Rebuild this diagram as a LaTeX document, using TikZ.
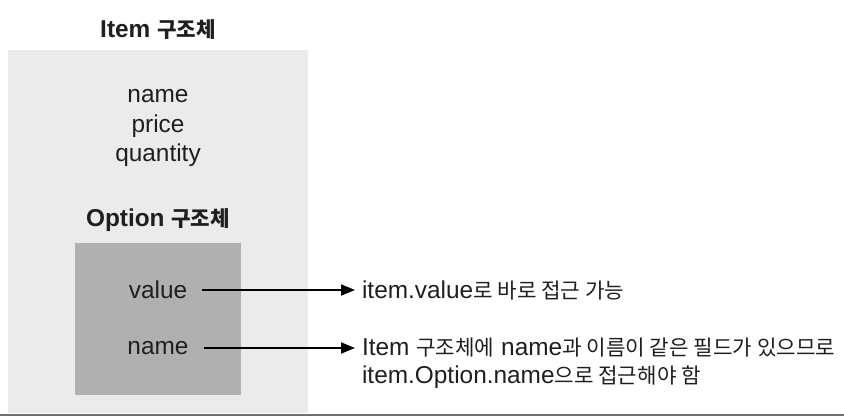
\documentclass[tikz,border=0pt]{standalone}
\usepackage{fontspec}
\setmainfont{Liberation Sans}
\newfontfamily\krfont[Scale=0.87]{Noto Sans CJK KR}
\newcommand{\ko}[1]{{\krfont #1}}
\usetikzlibrary{arrows.meta}
\definecolor{outergray}{HTML}{EBEBEB}
\definecolor{innergray}{HTML}{B0B0B0}
\definecolor{rulegray}{HTML}{707070}
\tikzset{
  fieldtxt/.style = {font=\fontsize{12.2}{14}\selectfont,text=black!88},
  headtxt/.style  = {font=\fontsize{12.2}{14}\selectfont\bfseries,text=black!88},
  notetxt/.style  = {fieldtxt,anchor=west},
  notearr/.style  = {-{Triangle[length=7pt,width=5.5pt]},line width=0.9pt,shorten <=4pt}
}

\begin{document}
\begin{tikzpicture}[x=0.5pt,y=-0.5pt]
  \useasboundingbox (0,0) rectangle (844,416);
  \fill[outergray] (8,50) rectangle (308,413);
  \fill[innergray] (75,243) rectangle (241,395);
  \draw[rulegray,line width=1pt] (0,414.5) -- (844,414.5);
  \node[headtxt] (itemhead) at (158,30) {Item \ko{구조체}};
  \node[fieldtxt] (fname)  at (158,96)  {name};
  \node[fieldtxt] (fprice) at (158,126) {price};
  \node[fieldtxt] (fqty)   at (158,155) {quantity};
  \node[headtxt] (opthead) at (158,220) {Option \ko{구조체}};
  \node[fieldtxt] (ovalue) at (158,290) {value};
  \node[fieldtxt] (oname)  at (158,348) {name};
  \node[notetxt] (valnote)  at (355,290) {item.value\ko{로 바로 접근 가능}};
  \node[notetxt] (namenote) at (355,348) {Item \ko{구조체에} name\ko{과 이름이 같은 필드가 있으므로}};
  \node[notetxt] (namenote2) at (355,377) {item.Option.name\ko{으로 접근해야 함}};
  \draw[notearr] (ovalue.east) -- (valnote.west);
  \draw[notearr] (oname.east) -- (namenote.west);
\end{tikzpicture}
\end{document}
